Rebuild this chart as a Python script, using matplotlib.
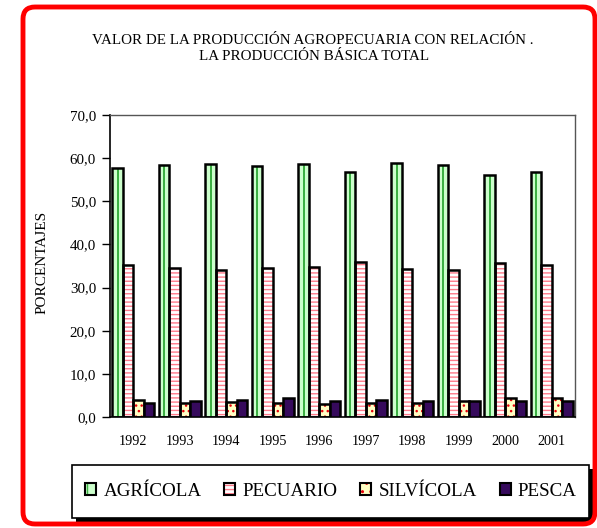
import matplotlib
matplotlib.use('Agg')
import matplotlib.pyplot as plt
from matplotlib.patches import FancyBboxPatch, Patch, Rectangle
from matplotlib.transforms import IdentityTransform
from matplotlib.legend_handler import HandlerTuple
import numpy as np

# ---------------- data ----------------
years = ['1992', '1993', '1994', '1995', '1996', '1997', '1998', '1999', '2000', '2001']
agricola = [57.8, 58.5, 58.7, 58.2, 58.6, 56.9, 58.9, 58.4, 56.0, 56.8]
pecuario = [35.2, 34.5, 34.0, 34.5, 34.8, 35.9, 34.2, 34.0, 35.7, 35.2]
silvicola = [3.9, 3.3, 3.4, 3.3, 3.0, 3.2, 3.3, 3.6, 4.5, 4.3]
pesca = [3.2, 3.8, 3.9, 4.4, 3.8, 3.9, 3.6, 3.8, 3.8, 3.8]
series_names = ['AGRÍCOLA', 'PECUARIO', 'SILVÍCOLA', 'PESCA']
yticks = [0, 10, 20, 30, 40, 50, 60, 70]
title_lines = ['VALOR DE LA PRODUCCIÓN AGROPECUARIA CON RELACIÓN .',
               'LA PRODUCCIÓN BÁSICA TOTAL']
ylabel = 'PORCENTAJES'

# ---------------- style ----------------
plt.rcParams['font.family'] = ['Liberation Serif', 'DejaVu Serif']
plt.rcParams['hatch.linewidth'] = 1.0

W, H = 597, 528
fig = plt.figure(figsize=(W / 100, H / 100), dpi=100)
ax = fig.add_axes([110 / W, 1 - 417 / H, (575 - 110) / W, (417 - 115) / H])

x = np.arange(len(years))
w = 0.228
offs = np.array([-1.5, -0.5, 0.5, 1.5]) * w
edge_lw = 1.8

green_fill = '#ccffcc'
green_line = '#3cb043'
pink = '#ff7a8a'
yellow = '#ffffc4'
red_dot = '#e8000b'
purple = '#360a5c'

# AGRÍCOLA
ax.bar(x + offs[0], agricola, w, color=green_fill, lw=0, zorder=2)
ax.bar(x + offs[0] + 0.01, agricola, 0.05, color=green_line, lw=0, zorder=2.5)
ax.bar(x + offs[0], agricola, w, fill=False, edgecolor='black', lw=edge_lw, zorder=3)
# PECUARIO
ax.bar(x + offs[1], pecuario, w, facecolor='white', edgecolor=pink, lw=0, hatch='----', zorder=2)
ax.bar(x + offs[1], pecuario, w, fill=False, edgecolor='black', lw=edge_lw, zorder=3)
# SILVÍCOLA
ax.bar(x + offs[2], silvicola, w, facecolor=yellow, edgecolor=red_dot, lw=0, hatch='...', zorder=2)
ax.bar(x + offs[2], silvicola, w, fill=False, edgecolor='black', lw=edge_lw, zorder=3)
# PESCA
ax.bar(x + offs[3], pesca, w, facecolor=purple, edgecolor='black', lw=edge_lw, zorder=3)

ax.set_xlim(-0.5, len(years) - 0.5)
ax.set_ylim(0, 70)
ax.set_yticks(yticks)
ax.set_yticklabels([f'{v:.1f}'.replace('.', ',') for v in yticks], fontsize=10.8)
ax.set_xticks(x)
ax.set_xticklabels(years, fontsize=10.2)
ax.tick_params(axis='x', length=0, pad=13)
ax.tick_params(axis='y', length=6, width=1, direction='out', pad=4)
for s in ['left', 'bottom']:
    ax.spines[s].set_color('black')
    ax.spines[s].set_linewidth(1.2)
for s in ['top', 'right']:
    ax.spines[s].set_color('#555555')
    ax.spines[s].set_linewidth(1.0)

# titles and label
fig.text(313 / W, 1 - 40 / H, title_lines[0], ha='center', va='center', fontsize=10.8)
fig.text(314 / W, 1 - 57 / H, title_lines[1], ha='center', va='center', fontsize=10.8)
fig.text(42 / W, 1 - 262 / H, ylabel, rotation=90, ha='center', va='center', fontsize=11)

# legend box with shadow (pixel coordinates, origin bottom-left)
lx0, lx1, ly_top, ly_bot = 72, 589, 465, 518
fig.add_artist(Rectangle((lx0 + 4, H - ly_bot - 4), lx1 - lx0, ly_bot - ly_top,
                         transform=IdentityTransform(), facecolor='black',
                         edgecolor='black', lw=0, zorder=1))
fig.add_artist(Rectangle((lx0, H - ly_bot), lx1 - lx0, ly_bot - ly_top,
                         transform=IdentityTransform(), facecolor='white',
                         edgecolor='black', lw=1.2, zorder=1.5))

h_agr = (Patch(facecolor=green_fill, lw=0),
         Patch(facecolor='none', edgecolor=green_line, hatch='||', lw=0),
         Patch(fill=False, edgecolor='black', lw=1.5))
h_pec = (Patch(facecolor='white', edgecolor=pink, hatch='----', lw=0),
         Patch(fill=False, edgecolor='black', lw=1.5))
h_sil = (Patch(facecolor=yellow, edgecolor=red_dot, hatch='..', lw=0),
         Patch(fill=False, edgecolor='black', lw=1.5))
h_pes = Patch(facecolor=purple, edgecolor='black', lw=1.5)
leg = fig.legend([h_agr, h_pec, h_sil, h_pes], series_names,
                 handler_map={tuple: HandlerTuple(ndivide=1, pad=0)},
                 loc='center', bbox_to_anchor=(331 / W, 1 - 491.5 / H),
                 bbox_transform=fig.transFigure, ncol=4, frameon=False,
                 fontsize=13.7, handlelength=0.58, handleheight=0.58, handletextpad=0.37,
                 columnspacing=1.2, borderpad=0, borderaxespad=0)
leg.set_zorder(5)

# red rounded border
border = FancyBboxPatch((23, H - 524), 572, 517,
                        boxstyle='round,pad=0,rounding_size=12',
                        transform=IdentityTransform(), fill=False,
                        edgecolor='#ff0000', lw=3.5)
fig.add_artist(border)

fig.savefig('out.png', dpi=100)
